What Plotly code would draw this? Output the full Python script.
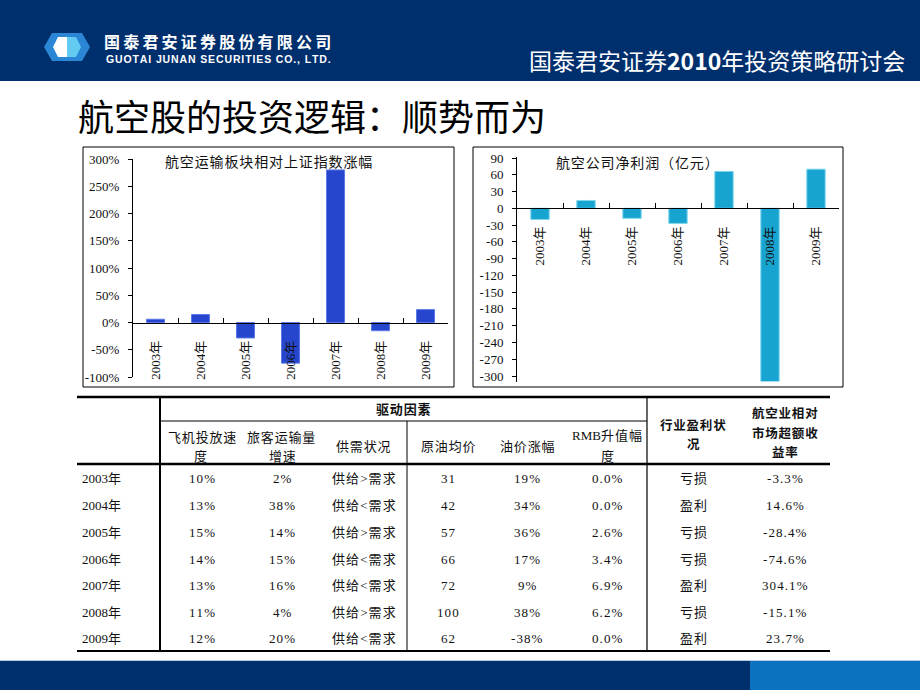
import plotly.graph_objects as go

# ---------------- data ----------------
years = ["2003年", "2004年", "2005年", "2006年", "2007年", "2008年", "2009年"]
rel_return = [6, 14.6, -28.4, -74.6, 280, -15.1, 23.7]          # % vs 上证
net_profit = [-20, 14, -18, -27, 66, -310, 70]                  # 亿元
left_ticks = [-100, -50, 0, 50, 100, 150, 200, 250, 300]
right_ticks = [90, 60, 30, 0, -30, -60, -90, -120, -150, -180, -210, -240, -270, -300]

plane_growth = ["10%", "13%", "15%", "14%", "13%", "11%", "12%"]
pax_growth = ["2%", "38%", "14%", "15%", "16%", "4%", "20%"]
supply = ["供给>需求", "供给<需求", "供给>需求", "供给<需求", "供给<需求", "供给>需求", "供给<需求"]
oil_price = ["31", "42", "57", "66", "72", "100", "62"]
oil_change = ["19%", "34%", "36%", "17%", "9%", "38%", "-38%"]
rmb_up = ["0.0%", "0.0%", "2.6%", "3.4%", "6.9%", "6.2%", "0.0%"]
profit_state = ["亏损", "盈利", "亏损", "亏损", "盈利", "亏损", "盈利"]
excess_ret = ["-3.3%", "14.6%", "-28.4%", "-74.6%", "304.1%", "-15.1%", "23.7%"]

# ---------------- helpers ----------------
W, H = 920, 690
def px(x):
    return x / W
def py(y):
    return 1 - y / H

SERIF = "Liberation Serif, Noto Sans CJK SC"
CJK = "Noto Sans CJK SC"
NAVY = "#002F6E"
HAIR = "\u200a"
THIN = "\u2009"

def esc(s):
    return s.replace("<", "&lt;").replace(">", "&gt;")

def spaced(s, sp=HAIR):
    return sp.join(list(s))

fig = go.Figure()

fig.add_trace(go.Bar(x=years, y=rel_return, width=0.4, xaxis="x", yaxis="y",
                     marker=dict(color="#2646CE", line=dict(color="#5C7BE8", width=1)),
                     hoverinfo="x+y"))
fig.add_trace(go.Bar(x=years, y=net_profit, width=0.4, xaxis="x2", yaxis="y2",
                     marker=dict(color="#18A4D0", line=dict(color="#7FD6EE", width=1)),
                     hoverinfo="x+y"))

# left chart geometry
L_ymin, L_ymax = -100, 300
L_top, L_bot = 159, 377
L_zero_px = L_top + (L_ymax - 0) / (L_ymax - L_ymin) * (L_bot - L_top)

# right chart geometry
R_ymin, R_ymax = -310, 92
r_scale = (376 - 158) / 390.0
R_top = 158 - (R_ymax - 90) * r_scale
R_bot = 376 + (-300 - R_ymin) * r_scale
R_zero_px = R_top + (R_ymax - 0) * r_scale

tickfont = dict(family=SERIF, size=13, color="#111")

xcommon = dict(type="category", showline=True, linecolor="black", linewidth=1,
               ticks="inside", tickson="boundaries", ticklen=5, tickcolor="black",
               tickangle=-90, tickfont=tickfont, showgrid=False, zeroline=False,
               ticklabelstandoff=12, anchor="free", automargin=False)
ycommon = dict(showline=True, linecolor="black", linewidth=1, ticks="outside",
               ticklen=4, tickcolor="black", tickfont=tickfont, showgrid=False,
               zeroline=False, ticklabelstandoff=6, automargin=False)

fig.update_layout(
    width=W, height=H, autosize=False,
    margin=dict(l=0, r=0, t=0, b=0, pad=0, autoexpand=False),
    paper_bgcolor="white", plot_bgcolor="rgba(0,0,0,0)",
    showlegend=False, bargap=0.6,
    xaxis=dict(domain=[px(133), px(448)], position=py(L_zero_px), **xcommon),
    yaxis=dict(domain=[py(L_bot), py(L_top)], range=[L_ymin, L_ymax], anchor="x",
               tickvals=left_ticks, ticktext=[f"{v}%" for v in left_ticks], **ycommon),
    xaxis2=dict(domain=[px(517), px(839)], position=py(R_zero_px), **xcommon),
    yaxis2=dict(domain=[py(R_bot), py(R_top)], range=[R_ymin, R_ymax], anchor="x2",
                tickvals=right_ticks, ticktext=[str(v) for v in right_ticks], **ycommon),
)

shapes = []
def rect(x0, y0, x1, y1, fill, line_color=None, lw=0):
    shapes.append(dict(type="rect", xref="paper", yref="paper", x0=px(x0), x1=px(x1),
                       y0=py(y1), y1=py(y0), fillcolor=fill,
                       line=dict(color=line_color or fill, width=lw), layer="below"))
def line(x0, y0, x1, y1, color="black", lw=1):
    shapes.append(dict(type="line", xref="paper", yref="paper", x0=px(x0), x1=px(x1),
                       y0=py(y0), y1=py(y1), line=dict(color=color, width=lw)))

# header & footer bands
rect(0, 0, W, 81, NAVY)
rect(0, 661, W, H, NAVY)
rect(750, 661, W, H, "#0A72BE")
line(0, 660.5, W, 660.5, "#B8CBE4", 1)

# logo icon (hexagon)
def poly(points, fill):
    d = "M " + " L ".join(f"{px(x)},{py(y)}" for x, y in points) + " Z"
    shapes.append(dict(type="path", xref="paper", yref="paper", path=d,
                       fillcolor=fill, line=dict(width=0)))
poly([(52, 33), (82, 33), (90, 47), (82, 61), (52, 61), (44, 47)], "#2C86D6")
poly([(67, 37), (58, 37), (53, 47), (58, 57), (67, 57)], "white")
poly([(67, 37), (76, 37), (81, 47), (76, 57), (67, 57)], "#63CBF2")

# chart boxes
rect(83, 147, 454, 387, "rgba(0,0,0,0)", "black", 1)
rect(473, 147, 843, 387, "rgba(0,0,0,0)", "black", 1)

# table lines
line(77, 397, 830, 397, "black", 2.5)
line(160, 421, 647, 421, "black", 1)
line(77, 464, 830, 464, "black", 2.5)
line(77, 651, 830, 651, "black", 2)
line(160, 397, 160, 651, "black", 2)
line(407, 421, 407, 651, "black", 1)
line(647, 397, 647, 651, "black", 1.2)

ann = []
def text(x, y, s, size=13, color="#111", family=SERIF, xanchor="center", bold=False):
    if bold:
        s = f"<b>{s}</b>"
    ann.append(dict(xref="paper", yref="paper", x=px(x), y=py(y), text=s, showarrow=False,
                    xanchor=xanchor, yanchor="middle", font=dict(size=size, color=color, family=family)))

# header texts
text(102, 41, "<b>" + spaced("国泰君安证券股份有限公司", THIN) + "</b>", size=16, color="white",
     family=CJK, xanchor="left")
text(104, 59.5, "<b>" + spaced("GUOTAI JUNAN SECURITIES CO., LTD.", HAIR) + "</b>", size=10.5,
     color="white", family="Liberation Sans, Arial", xanchor="left")
text(907, 60, "国泰君安证券<b>2010</b>年投资策略研讨会", size=23, color="white",
     family=CJK, xanchor="right")
text(76, 115, "航空股的投资逻辑：顺势而为", size=36, color="black", family=CJK, xanchor="left")

# chart titles
text(268, 161, spaced("航空运输板块相对上证指数涨幅"), size=14, family=CJK)
text(637, 162, spaced("航空公司净利润（亿元）"), size=14, family=CJK)

# table header
hs = 13
text(403, 408, spaced("驱动因素"), size=13, family=CJK, bold=True)
text(202, 436, spaced("飞机投放速"), size=hs, family=CJK)
text(200, 455, "度", size=hs, family=CJK)
text(281, 436, spaced("旅客运输量"), size=hs, family=CJK)
text(282, 455, spaced("增速"), size=hs, family=CJK)
text(363, 445, spaced("供需状况"), size=hs, family=CJK)
text(448, 445, spaced("原油均价"), size=hs, family=CJK)
text(527, 445, spaced("油价涨幅"), size=hs, family=CJK)
text(607, 435, "RMB" + spaced("升值幅"), size=hs, family=SERIF)
text(607, 455, "度", size=hs, family=CJK)
text(693, 424, spaced("行业盈利状"), size=12.5, family=CJK, bold=True)
text(693, 444, "况", size=12.5, family=CJK, bold=True)
text(785, 413, spaced("航空业相对"), size=12.5, family=CJK, bold=True)
text(785, 432, spaced("市场超额收"), size=12.5, family=CJK, bold=True)
text(785, 451, spaced("益率"), size=12.5, family=CJK, bold=True)

# table body
row_y = [479, 506, 532, 559, 585, 612, 638]
cols = [(202, plane_growth), (282, pax_growth), (364, supply), (448, oil_price),
        (527, oil_change), (607, rmb_up), (693, profit_state), (785, excess_ret)]
for i, yy in enumerate(row_y):
    text(80, yy, years[i], size=13, xanchor="left")
    for cx, arr in cols:
        text(cx, yy, esc(spaced(arr[i])), size=13)

fig.update_layout(shapes=shapes, annotations=ann)
fig.write_html(
    "out.html",
    config={"displayModeBar": False},
    post_script=(
        "document.documentElement.style.margin='0';"
        "document.documentElement.style.overflow='hidden';"
        "document.body.style.margin='0';document.body.style.overflow='hidden';"
        "var d=document.getElementById('{plot_id}');"
        "d.style.position='fixed';d.style.top='0px';d.style.left='0px';"
    ),
)
